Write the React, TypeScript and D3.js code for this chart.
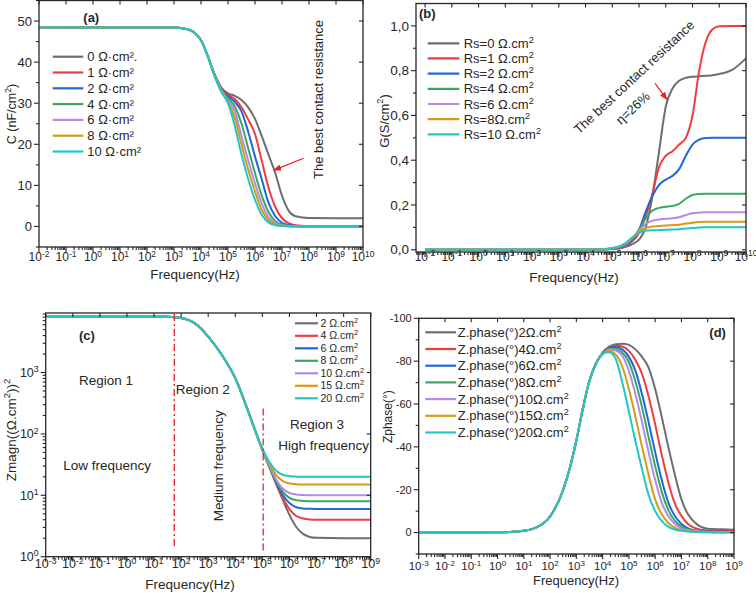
import { useEffect, useRef } from 'react';
import * as d3 from 'd3';

const FONT = '"Liberation Sans", Arial, sans-serif';
const INK = '#262626';
const palette = ['#6e6e6e', '#f03c3c', '#2067dc', '#38a860', '#b48ae6', '#d49c12', '#22c6c8'];

// (a) capacitance, nF/cm2, sampled at log10(f)
const capExp = [-2, 3, 3.5, 3.75, 4, 4.25, 4.5, 4.75, 5, 5.25, 5.5, 5.75, 6, 6.25, 6.5, 6.75, 7, 7.25, 7.5, 8, 9, 10];
const capLegend = ['0 Ω·cm².', '1 Ω·cm²', '2 Ω·cm²', '4 Ω·cm²', '6 Ω·cm²', '8 Ω·cm²', '10 Ω·cm²'];
const capSeries = [
  [48.5, 48.4, 48, 47.2, 45.3, 41.5, 37, 33.8, 32.4, 31.8, 30.8, 29, 26.2, 22, 17.5, 13, 7.5, 3.8, 2.5, 2.05, 2, 2],
  [48.5, 48.4, 48, 47.2, 45.3, 41.5, 37, 33.7, 32.1, 31, 29, 26, 22.5, 16, 9.5, 4.8, 2, 0.8, 0.3, 0.1, 0, 0],
  [48.5, 48.4, 48, 47.2, 45.3, 41.5, 37, 33.6, 31.7, 30.3, 28, 23, 17, 11.5, 5.8, 2.5, 0.9, 0.35, 0.12, 0, 0, 0],
  [48.5, 48.4, 48, 47.2, 45.3, 41.5, 36.9, 33.4, 31.2, 29.2, 25, 19, 13, 7.5, 3.5, 1.3, 0.5, 0.2, 0.05, 0, 0, 0],
  [48.5, 48.4, 48, 47.2, 45.3, 41.5, 36.8, 33.2, 30.7, 28, 22, 16, 10.5, 5.5, 2.3, 0.8, 0.3, 0.1, 0, 0, 0, 0],
  [48.5, 48.4, 48, 47.2, 45.3, 41.4, 36.7, 33, 30.3, 26.5, 20, 13.8, 8.5, 4, 1.6, 0.5, 0.2, 0.05, 0, 0, 0, 0],
  [48.5, 48.4, 48, 47.2, 45.3, 41.4, 36.6, 32.8, 30, 24.5, 17.5, 11.5, 6.5, 2.8, 1, 0.3, 0.1, 0, 0, 0, 0, 0],
];

// (b) conductance, S/cm2
const condExp = [-2, 4, 4.5, 5, 5.25, 5.5, 5.75, 6, 6.25, 6.5, 6.75, 7, 7.25, 7.5, 7.75, 8, 8.25, 8.5, 8.75, 9, 9.5, 10];
const condLegend = ['Rs=0 Ω.cm', 'Rs=1 Ω.cm', 'Rs=2 Ω.cm', 'Rs=4 Ω.cm', 'Rs=6 Ω.cm', 'Rs=8Ω.cm', 'Rs=10 Ω.cm'];
const condSeries = [
  [0, 0, 0.001, 0.003, 0.006, 0.013, 0.025, 0.045, 0.1, 0.24, 0.44, 0.64, 0.72, 0.755, 0.768, 0.773, 0.775, 0.777, 0.779, 0.785, 0.805, 0.855],
  [0, 0, 0.001, 0.004, 0.008, 0.018, 0.038, 0.075, 0.15, 0.25, 0.37, 0.42, 0.44, 0.47, 0.5, 0.6, 0.8, 0.93, 0.985, 0.998, 1, 1],
  [0, 0, 0.001, 0.005, 0.01, 0.022, 0.045, 0.09, 0.17, 0.24, 0.29, 0.313, 0.33, 0.36, 0.42, 0.47, 0.492, 0.499, 0.5, 0.5, 0.5, 0.5],
  [0, 0, 0.001, 0.006, 0.012, 0.025, 0.05, 0.09, 0.14, 0.175, 0.187, 0.192, 0.196, 0.205, 0.228, 0.245, 0.249, 0.25, 0.25, 0.25, 0.25, 0.25],
  [0, 0, 0.001, 0.007, 0.013, 0.026, 0.052, 0.085, 0.115, 0.13, 0.135, 0.138, 0.141, 0.145, 0.155, 0.163, 0.166, 0.167, 0.167, 0.167, 0.167, 0.167],
  [0, 0, 0.001, 0.007, 0.014, 0.028, 0.055, 0.08, 0.097, 0.104, 0.106, 0.108, 0.11, 0.112, 0.117, 0.121, 0.124, 0.125, 0.125, 0.125, 0.125, 0.125],
  [0, 0, 0.001, 0.008, 0.015, 0.03, 0.055, 0.075, 0.085, 0.087, 0.088, 0.089, 0.09, 0.092, 0.095, 0.097, 0.099, 0.1, 0.1, 0.1, 0.1, 0.1],
];

// (c) impedance magnitude
const magExp = [-3, 1, 1.5, 2, 2.5, 3, 3.5, 4, 4.5, 5, 5.25, 5.5, 5.75, 6, 6.25, 6.5, 6.75, 7, 8, 9];
const magLegend = ['2 Ω.cm', '4 Ω.cm', '6 Ω.cm', '8 Ω.cm', '10 Ω.cm', '15 Ω.cm', '20 Ω.cm'];
const magSeries = [
  [8180, 8180, 8130, 7710, 6380, 3860, 1950, 813, 219, 55, 29.3, 15.6, 8.5, 4.8, 3.05, 2.35, 2.1, 2.03, 2, 2],
  [8180, 8180, 8130, 7710, 6380, 3860, 1950, 813, 219, 55, 29.5, 16, 9.1, 5.95, 4.6, 4.2, 4.05, 4.01, 4, 4],
  [8180, 8180, 8130, 7710, 6380, 3860, 1950, 813, 219, 55.2, 29.8, 16.6, 10.2, 7.5, 6.4, 6.1, 6.03, 6, 6, 6],
  [8180, 8180, 8130, 7710, 6380, 3860, 1950, 813, 219, 55.5, 30.3, 17.4, 11.5, 9.1, 8.3, 8.1, 8.03, 8, 8, 8],
  [8180, 8180, 8130, 7710, 6380, 3860, 1950, 813, 219, 55.8, 30.9, 18.5, 12.9, 10.9, 10.3, 10.1, 10.03, 10, 10, 10],
  [8180, 8180, 8130, 7710, 6380, 3860, 1950, 813, 219, 56.5, 32.9, 21.5, 17.1, 15.6, 15.2, 15.05, 15.02, 15, 15, 15],
  [8180, 8180, 8130, 7710, 6380, 3860, 1950, 813, 219, 57.5, 35.4, 25.3, 21.6, 20.5, 20.15, 20.05, 20.02, 20, 20, 20],
];
const regionEdges = [56, 1.07e5];
const regionTops = [9000, 260];
const regionBottoms = [1.37, 1.15];

// (d) impedance phase, degrees
const phaseExp = [-3, 0, 0.5, 1, 1.5, 2, 2.5, 2.75, 3, 3.25, 3.5, 3.75, 4, 4.25, 4.5, 4.75, 5, 5.25, 5.5, 5.75, 6, 6.25, 6.5, 6.75, 7, 7.25, 7.5, 8, 8.5, 9];
const phaseLegend = ['Z.phase(°)2Ω.cm', 'Z.phase(°)4Ω.cm', 'Z.phase(°)6Ω.cm', 'Z.phase(°)8Ω.cm', 'Z.phase(°)10Ω.cm', 'Z.phase(°)15Ω.cm', 'Z.phase(°)20Ω.cm'];
const phaseRise = [0, -0.1, -0.3, -0.8, -2.5, -7.5, -20, -30, -43, -58, -71, -79];
const phaseSeries = [
  [...phaseRise, -84, -86.8, -87.9, -88.1, -87.6, -85.5, -82, -77, -67, -54, -40, -27, -15.5, -8.5, -4.8, -1.8, -1.5, -1.3],
  [...phaseRise, -83.8, -86.3, -87.2, -86.8, -84.8, -80.5, -74, -63.5, -50.5, -36.3, -23.5, -13.5, -7.8, -4, -2.2, -1, -0.8, -0.8],
  [...phaseRise, -83.6, -86, -86.6, -85.5, -82, -75.5, -64.5, -51.5, -37.5, -24.5, -14, -7.7, -4, -2, -1.1, -0.5, -0.4, -0.4],
  [...phaseRise, -83.5, -85.5, -85.8, -84, -79.5, -70.5, -58.5, -44.5, -31, -19, -10.5, -5.5, -2.8, -1.5, -0.9, -0.4, -0.3, -0.3],
  [...phaseRise, -83.3, -85.4, -85, -82.5, -75.5, -64.5, -51.5, -37.5, -24.5, -14, -7.7, -4, -2, -1.1, -0.7, -0.3, -0.2, -0.2],
  [...phaseRise, -83.2, -84.7, -83, -77.5, -67, -54, -40, -27, -15.5, -8.5, -4.5, -2.3, -1.2, -0.7, -0.4, -0.2, -0.1, -0.1],
  [...phaseRise, -83.5, -84.2, -81, -70, -56.5, -42.5, -29.5, -17.5, -10, -5.3, -2.7, -1.4, -0.8, -0.5, -0.3, -0.1, 0, 0],
];

// text with an optional superscript, baseline placed from a vertical centre
function supText(g: any, x: number, yc: number, size: number, before: string, sup?: string, after?: string) {
  const t = g.append('text')
    .attr('x', x)
    .attr('y', yc + size * 0.35)
    .attr('font-family', FONT)
    .attr('font-size', size)
    .attr('fill', INK);
  t.append('tspan').text(before);
  if (sup) {
    t.append('tspan').attr('font-size', size * 0.7).attr('dy', -size * 0.38).text(sup);
    if (after) t.append('tspan').attr('dy', size * 0.38).text(after);
  }
  return t;
}

function tick(g: any, x1: number, y1: number, x2: number, y2: number) {
  g.append('line')
    .attr('x1', x1).attr('y1', y1).attr('x2', x2).attr('y2', y2)
    .attr('stroke', INK).attr('stroke-width', 1.1);
}

function logAxisX(g: any, x: any, box: any, lo: number, hi: number, labelY: number, fs: number) {
  const [d0, d1] = x.domain();
  for (let e = lo - 1; e <= hi; e++) {
    for (let k = 1; k <= 9; k++) {
      const v = k * Math.pow(10, e);
      if (v < d0 * 0.999 || v > d1 * 1.001) continue;
      const px = x(v);
      if (k === 1) {
        tick(g, px, box.b, px, box.b + 5);
        tick(g, px, box.t, px, box.t + 4);
        supText(g, px, labelY, fs, '10', String(e)).attr('text-anchor', 'middle');
      } else {
        tick(g, px, box.b, px, box.b + 3);
      }
    }
  }
}

function linAxisY(g: any, y: any, box: any, majors: number[], minors: number[], fmt: (d: number) => string, fs: number) {
  majors.forEach((d) => {
    const py = y(d);
    tick(g, box.l - 5, py, box.l, py);
    tick(g, box.r - 4, py, box.r, py);
    supText(g, box.l - 7, py, fs, fmt(d)).attr('text-anchor', 'end');
  });
  minors.forEach((d) => {
    const py = y(d);
    tick(g, box.l - 3, py, box.l, py);
  });
}

function drawSeries(g: any, x: any, y: any, exps: number[], series: number[][]) {
  const line = d3.line<number>()
    .x((_, i) => x(Math.pow(10, exps[i])))
    .y((d) => y(d))
    .curve(d3.curveMonotoneX);
  series.forEach((vals, k) => {
    g.append('path')
      .attr('d', line(vals))
      .attr('fill', 'none')
      .attr('stroke', palette[k])
      .attr('stroke-width', 2);
  });
}

function legend(g: any, labels: string[], sup: string | null, x0: number, x1: number, tx: number, y0: number, dy: number, fs: number) {
  labels.forEach((lab, k) => {
    const yy = y0 + k * dy;
    g.append('line')
      .attr('x1', x0).attr('x2', x1).attr('y1', yy).attr('y2', yy)
      .attr('stroke', palette[k]).attr('stroke-width', 2.2);
    supText(g, tx, yy, fs, lab, sup || undefined);
  });
}

function frame(g: any, box: any) {
  g.append('rect')
    .attr('x', box.l).attr('y', box.t)
    .attr('width', box.r - box.l).attr('height', box.b - box.t)
    .attr('fill', 'none').attr('stroke', INK).attr('stroke-width', 1.3);
}

function label(g: any, x: number, yc: number, str: string, size: number, opts: any = {}) {
  const t = supText(g, x, yc, size, str);
  if (opts.anchor) t.attr('text-anchor', opts.anchor);
  if (opts.bold) t.attr('font-weight', 'bold');
  return t;
}

function rotated(g: any, cx: number, cy: number, angle: number, size: number, str: string) {
  g.append('text')
    .attr('transform', `translate(${cx},${cy}) rotate(${angle})`)
    .attr('text-anchor', 'middle').attr('y', size * 0.35)
    .attr('font-family', FONT).attr('font-size', size).attr('fill', INK)
    .text(str);
}

function yTitle(g: any, cx: number, cy: number, size: number, before: string, sup: string, after: string, tail?: string) {
  const t = g.append('text')
    .attr('transform', `translate(${cx},${cy}) rotate(-90)`)
    .attr('text-anchor', 'middle')
    .attr('y', size * 0.35)
    .attr('font-family', FONT)
    .attr('font-size', size)
    .attr('fill', INK);
  t.append('tspan').text(before);
  if (sup) {
    t.append('tspan').attr('font-size', size * 0.7).attr('dy', -size * 0.42).text(sup);
    t.append('tspan').attr('dy', size * 0.42).text(after);
  }
  if (tail) t.append('tspan').attr('font-size', size * 0.7).attr('dy', -size * 0.42).text(tail);
}

function App() {
  const svgRef = useRef<SVGSVGElement | null>(null);

  useEffect(() => {
    if (!svgRef.current) return;
    const svg = d3.select(svgRef.current);
    svg.selectAll('*').remove();
    svg.append('rect').attr('width', 756).attr('height', 593).attr('fill', '#fff');

    svg.append('defs').append('marker')
      .attr('id', 'redHead')
      .attr('viewBox', '0 0 10 10')
      .attr('refX', 9).attr('refY', 5)
      .attr('markerWidth', 8).attr('markerHeight', 8)
      .attr('markerUnits', 'userSpaceOnUse')
      .attr('orient', 'auto')
      .append('path').attr('d', 'M0,1 L10,5 L0,9 z').attr('fill', '#f01e1e');

    const arrow = (g: any, x: any, y: any, from: number[], to: number[]) => {
      g.append('line')
        .attr('x1', x(from[0])).attr('y1', y(from[1]))
        .attr('x2', x(to[0])).attr('y2', y(to[1]))
        .attr('stroke', '#f01e1e').attr('stroke-width', 1.2)
        .attr('marker-end', 'url(#redHead)');
    };

    // ---- (a) capacitance
    {
      const g = svg.append('g');
      const box = { l: 39, r: 363, t: 0.5, b: 247 };
      const x = d3.scaleLog().domain([1e-2, 1e10]).range([box.l, box.r]);
      const y = d3.scaleLinear().domain([-5, 55]).range([box.b, box.t]);
      drawSeries(g, x, y, capExp, capSeries);
      logAxisX(g, x, box, -2, 10, 257, 12);
      linAxisY(g, y, box, d3.range(0, 51, 10), d3.range(-5, 56, 10), (d) => String(d), 13);
      frame(g, box);
      legend(g, capLegend, null, 52.7, 83.3, 87.3, 56.7, 15.8, 13);
      label(g, 83.3, 17.3, '(a)', 13, { bold: true });
      label(g, 195, 274, 'Frequency(Hz)', 13.5, { anchor: 'middle' });
      yTitle(g, 12, 114, 12.5, 'C (nF/cm', '2', ')');
      rotated(g, 318, 99.5, -90, 13, 'The best contact resistance');
      arrow(g, x, y, [Math.pow(10, 7.8), 16.6], [Math.pow(10, 6.7), 13.7]);
    }

    // ---- (b) conductance
    {
      const g = svg.append('g');
      const box = { l: 416, r: 746, t: 3.5, b: 252 };
      const x = d3.scaleLog().domain([Math.pow(10, -2.34), 1e10]).range([box.l, box.r]);
      const y = d3.scaleLinear().domain([-0.01, 1.1]).range([box.b, box.t]);
      drawSeries(g, x, y, condExp, condSeries);
      logAxisX(g, x, box, -2, 10, 256.5, 12);
      linAxisY(g, y, box, d3.range(0, 1.01, 0.2), d3.range(0.1, 1.1, 0.2), (d) => d.toFixed(1).replace('.', ','), 13.5);
      frame(g, box);
      legend(g, condLegend, '2', 427.7, 459.3, 463.7, 43.3, 15.17, 13);
      label(g, 419, 13.3, '(b)', 13, { bold: true });
      label(g, 574, 277, 'Frequency(Hz)', 13.5, { anchor: 'middle' });
      yTitle(g, 384.3, 121, 13, 'G(S/cm', '2', ')');
      rotated(g, 634, 77, -43, 13, 'The best contact resistance');
      rotated(g, 632.8, 108, -43, 13, 'η=26%');
      arrow(g, x, y, [Math.pow(10, 6.6), 0.743], [Math.pow(10, 7.04), 0.672]);
    }

    // ---- (c) impedance magnitude
    {
      const g = svg.append('g');
      const box = { l: 45.7, r: 370.7, t: 313, b: 556.7 };
      const x = d3.scaleLog().domain([1e-3, 1e9]).range([box.l, box.r]);
      const y = d3.scaleLog().domain([1, Math.pow(10, 3.97)]).range([box.b, box.t]);
      drawSeries(g, x, y, magExp, magSeries);
      regionEdges.forEach((f, i) => {
        g.append('line')
          .attr('x1', x(f)).attr('x2', x(f))
          .attr('y1', y(regionTops[i])).attr('y2', y(regionBottoms[i]))
          .attr('stroke', '#e8202a').attr('stroke-width', 1.3)
          .attr('stroke-dasharray', '7,3,2,3');
      });
      logAxisX(g, x, box, -3, 9, 564, 12.5);
      [0, 1, 2, 3].forEach((e) => {
        const py = y(Math.pow(10, e));
        tick(g, box.l - 5, py, box.l, py);
        tick(g, box.r - 4, py, box.r, py);
        supText(g, box.l - 7, py, 12.5, '10', String(e)).attr('text-anchor', 'end');
        for (let k = 2; k <= 9; k++) {
          const v = k * Math.pow(10, e);
          if (v > y.domain()[1]) continue;
          tick(g, box.l - 3, y(v), box.l, y(v));
        }
      });
      frame(g, box);
      legend(g, magLegend, '2', 295, 318, 320.5, 323.3, 12.5, 10.5);
      label(g, 79, 335.7, '(c)', 13, { bold: true });
      label(g, 190, 584, 'Frequency(Hz)', 13.5, { anchor: 'middle' });
      yTitle(g, 11, 430, 13.5, 'Zmagn((Ω.cm', '2', '))', '2');
      label(g, 79, 380.7, 'Region 1', 13.5);
      label(g, 175.7, 389, 'Region 2', 13.5);
      label(g, 63.3, 465, 'Low frequency', 13.5);
      label(g, 290, 424.3, 'Region 3', 13.5);
      label(g, 278.3, 445.7, 'High frequency', 13.5);
      rotated(g, 218.3, 465.8, -90, 13.5, 'Medium frequency');
    }

    // ---- (d) impedance phase
    {
      const g = svg.append('g');
      const box = { l: 418.7, r: 734, t: 318.3, b: 554 };
      const x = d3.scaleLog().domain([1e-3, 1e9]).range([box.l, box.r]);
      const y = d3.scaleLinear().domain([10, -100]).range([box.b, box.t]);
      drawSeries(g, x, y, phaseExp, phaseSeries);
      logAxisX(g, x, box, -3, 9, 566, 11.5);
      linAxisY(g, y, box, d3.range(-100, 1, 20), d3.range(-90, 11, 20), (d) => String(d), 11);
      frame(g, box);
      legend(g, phaseLegend, '2', 425.3, 456, 457.7, 332.3, 16.7, 13);
      label(g, 709.3, 332.3, '(d)', 13, { bold: true });
      label(g, 576, 580.5, 'Frequency(Hz)', 13, { anchor: 'middle' });
      yTitle(g, 387.7, 416.7, 12, 'Zphase(°)', '', '');
    }
  }, []);

  return <svg ref={svgRef} width={756} height={593} style={{ position: 'absolute', left: 0, top: 0 }} />;
}

export default App;
